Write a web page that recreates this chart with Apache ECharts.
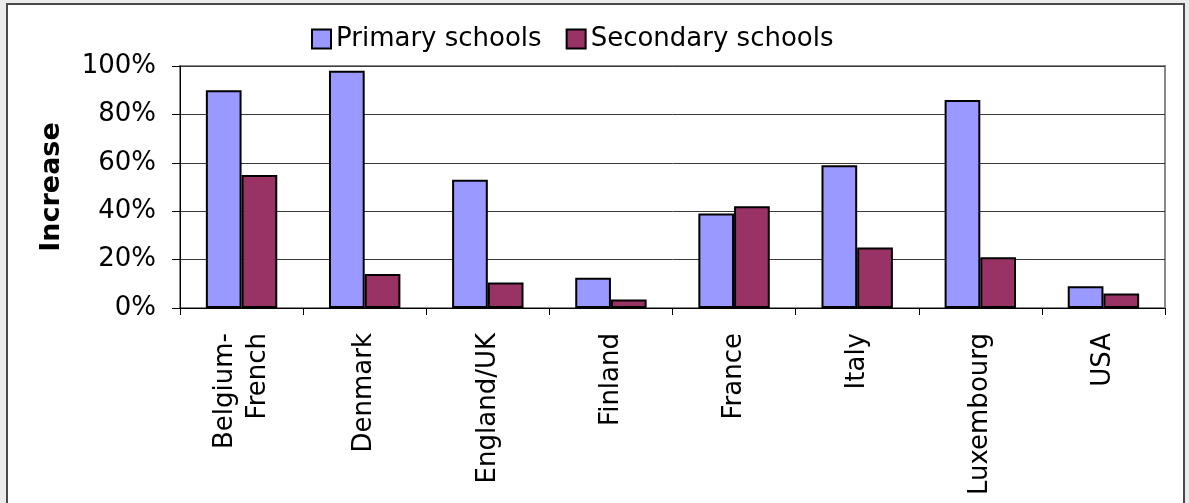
<!DOCTYPE html>
<html>
<head>
<meta charset="utf-8">
<script src="https://cdn.jsdelivr.net/npm/echarts@6/dist/echarts.min.js"></script>
<style>
html,body{margin:0;padding:0;background:#ebebeb;overflow:hidden;width:1189px;height:503px;}
#frame{position:absolute;left:6px;top:3px;width:1175px;height:600px;border:2px solid #4a4a4a;background:#fff;}
#chart{position:absolute;left:0;top:0;width:1189px;height:503px;}
</style>
</head>
<body>
<div id="frame"></div>
<div id="chart"></div>
<script>
const categories = ['Belgium-\nFrench','Denmark','England/UK','Finland','France','Italy','Luxembourg','USA'];
const primary = [90, 98, 53, 12.5, 39, 59, 86, 9];
const secondary = [55, 14, 10.5, 3.5, 42, 25, 21, 6];
const seriesNames = ['Primary schools','Secondary schools'];
const yTicks = [0, 20, 40, 60, 80, 100];

const font = 'DejaVu Sans, Verdana, sans-serif';
const chart = echarts.init(document.getElementById('chart'), null, {renderer:'canvas'});
chart.setOption({
  backgroundColor: 'transparent',
  animation: false,
  legend: {
    left: 306, top: 21,
    itemWidth: 19, itemHeight: 19, itemGap: 24,
    icon: 'rect',
    textStyle: {fontFamily: font, fontSize: 26, color: '#000'},
    data: seriesNames
  },
  grid: {left: 180, right: 24, top: 66, bottom: 195, show: true, borderColor: '#888', borderWidth: 2, backgroundColor: 'transparent'},
  xAxis: {
    type: 'category', data: categories,
    axisLine: {lineStyle: {color: '#000', width: 1}},
    axisTick: {show: true, length: 7, lineStyle: {color: '#000'}},
    axisLabel: {rotate: 90, margin: 25, fontFamily: font, fontSize: 26, color: '#000', lineHeight: 33, interval: 0}
  },
  yAxis: {
    type: 'value', min: yTicks[0], max: yTicks[yTicks.length-1], interval: 20,
    name: 'Increase', nameLocation: 'middle', nameRotate: 90, nameGap: 115,
    nameTextStyle: {fontFamily: font, fontSize: 27, fontWeight: 'bold', color: '#000'},
    axisLine: {show: true, lineStyle: {color: '#000', width: 1}},
    axisTick: {show: true, length: 8, lineStyle: {color: '#000'}},
    axisLabel: {margin: 24, fontFamily: font, fontSize: 26, color: '#000', formatter: v => v + '%'},
    splitLine: {lineStyle: {color: '#3a3a3a', width: 1}}
  },
  series: [
    {name: seriesNames[0], type: 'bar', data: primary, barGap: '0%', barCategoryGap: '42%',
     itemStyle: {color: '#9999FF', borderColor: '#000', borderWidth: 2}},
    {name: seriesNames[1], type: 'bar', data: secondary, barGap: '0%', barCategoryGap: '42%',
     itemStyle: {color: '#993366', borderColor: '#000', borderWidth: 2}}
  ]
});
</script>
</body>
</html>
